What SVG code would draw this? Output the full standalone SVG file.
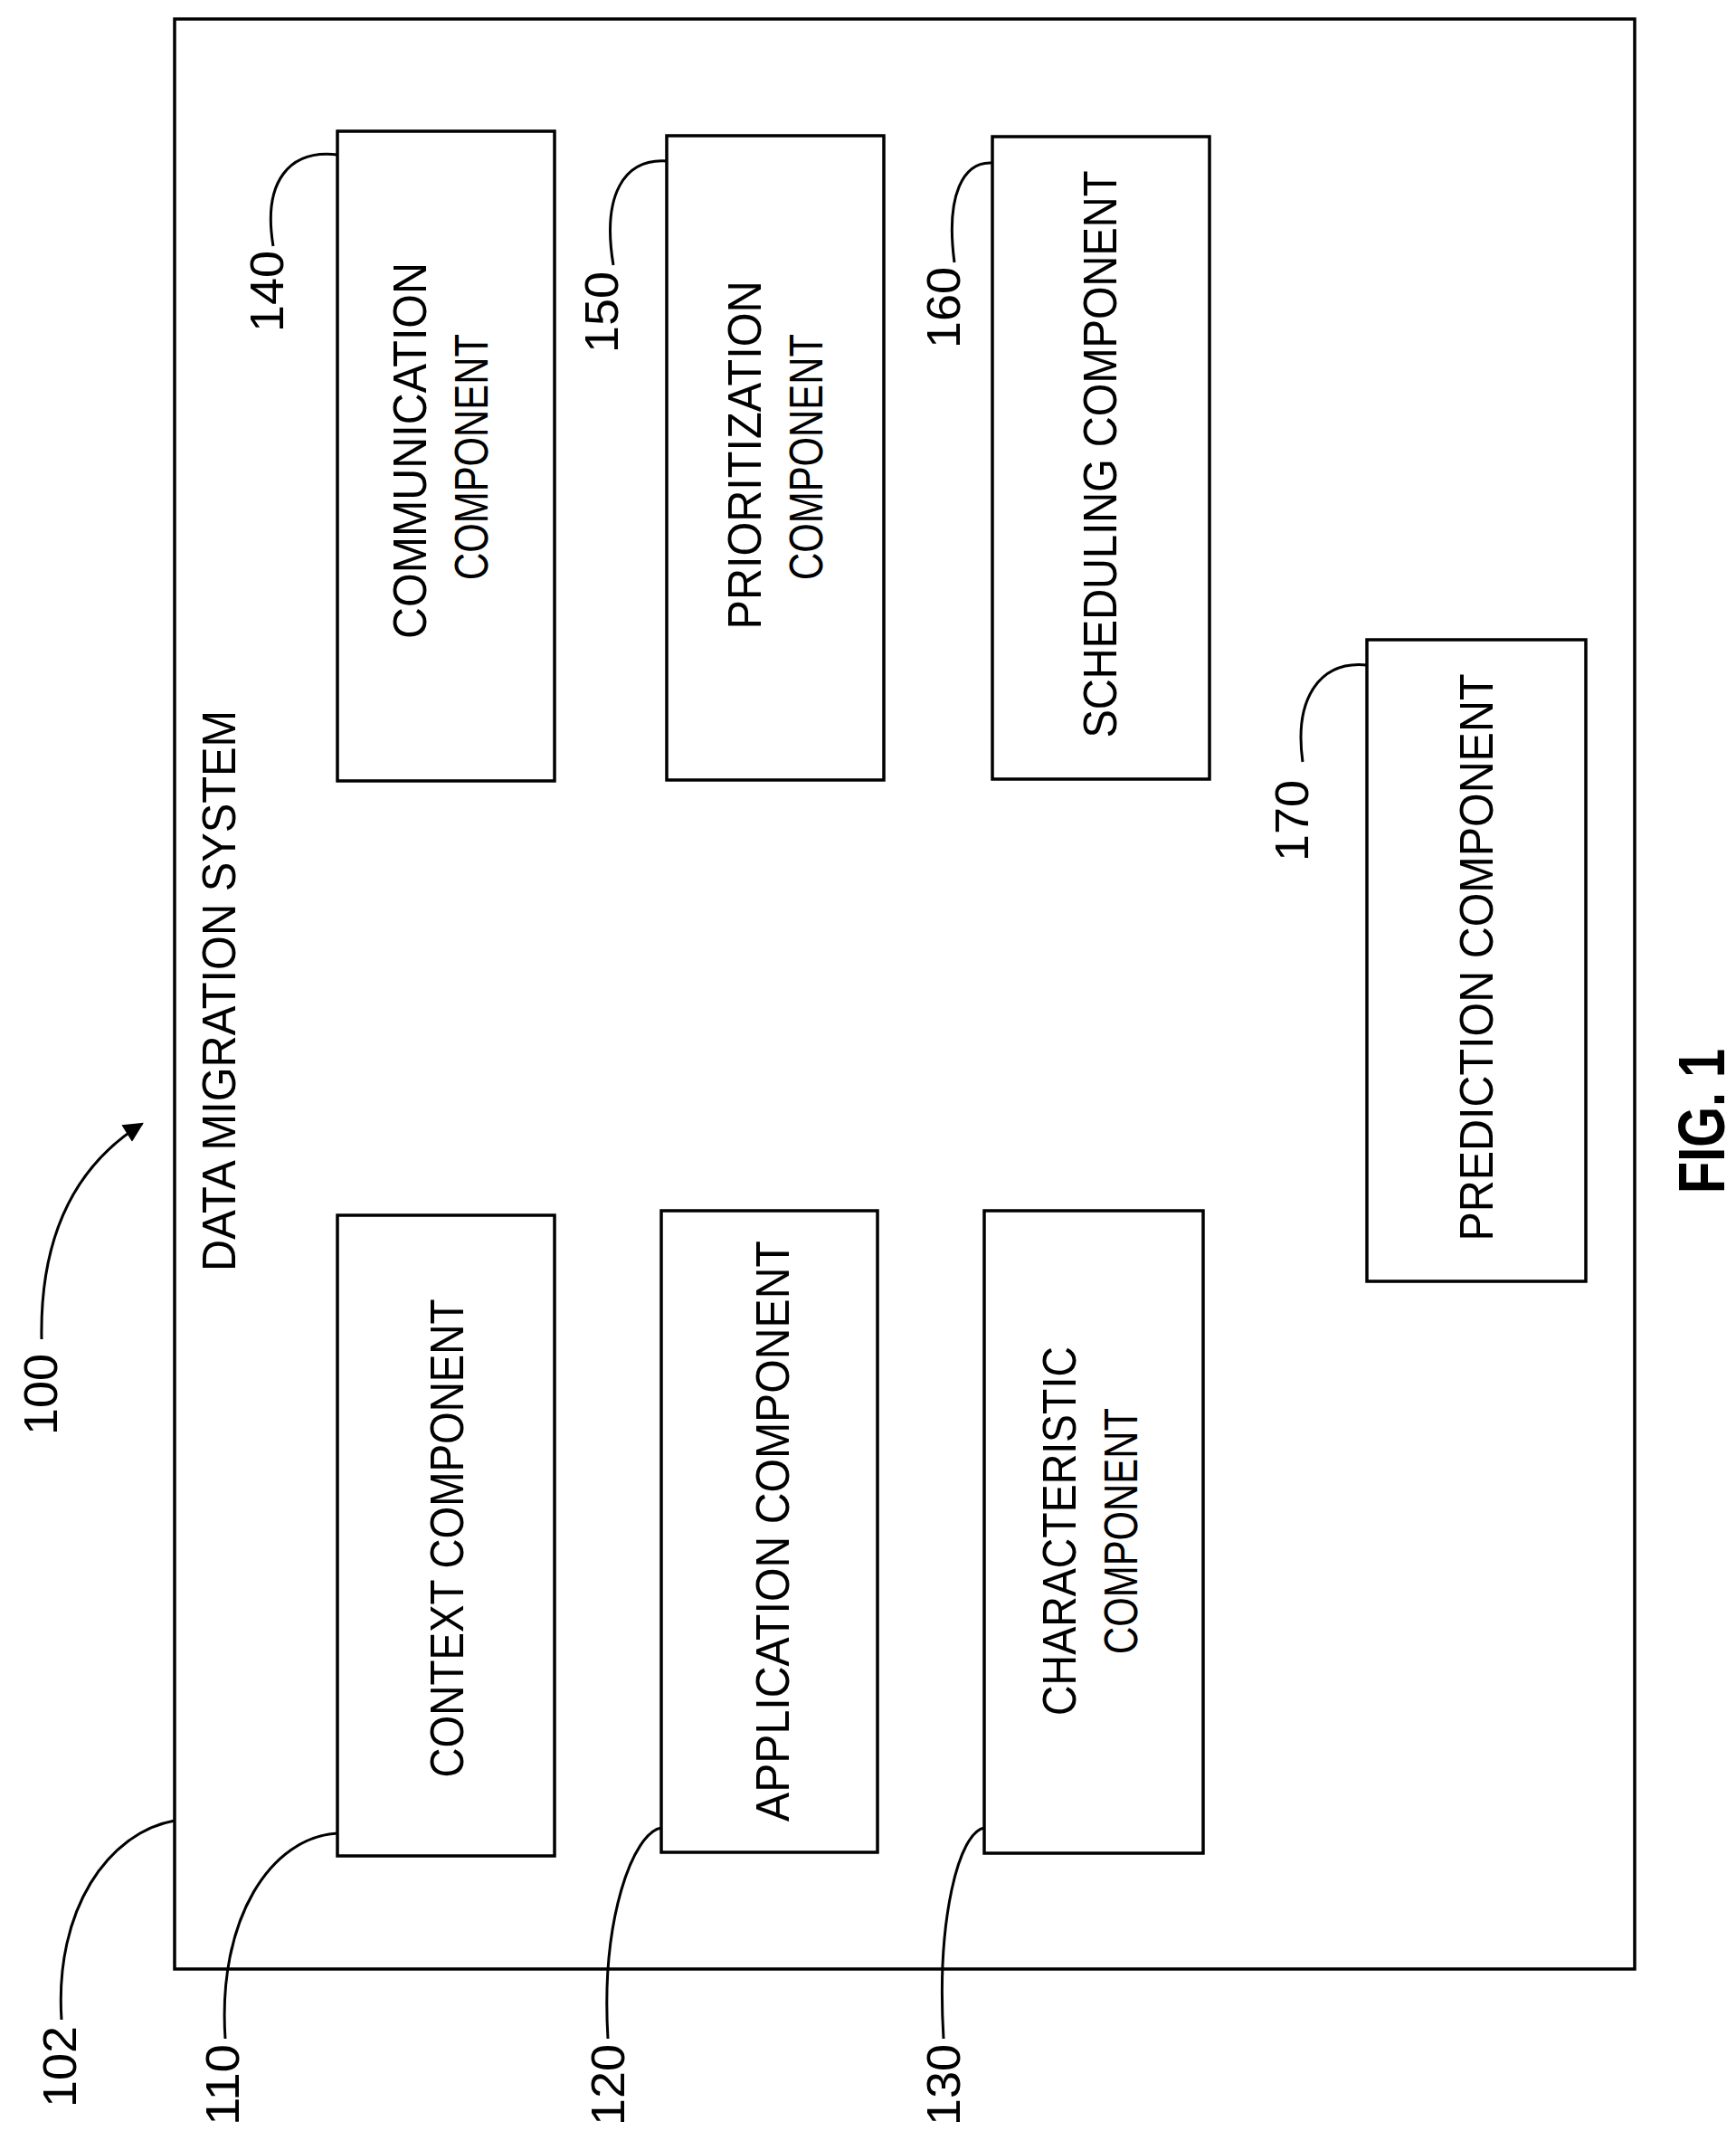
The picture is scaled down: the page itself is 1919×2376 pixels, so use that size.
<svg xmlns="http://www.w3.org/2000/svg" width="1919" height="2376" viewBox="0 0 1919 2376">
<defs>
<style>
.b{fill:#fff;stroke:#000;stroke-width:3.5}
.l{fill:none;stroke:#000;stroke-width:3}
.t{font-family:"Liberation Sans",Arial,sans-serif;font-size:52px;text-anchor:middle;dominant-baseline:central;fill:#000}
</style>
<marker id="a" viewBox="0 0 10 10" refX="9" refY="5" markerWidth="28" markerHeight="22" orient="auto" markerUnits="userSpaceOnUse"><path d="M0,0 L10,5 L0,10 z" fill="#000"/></marker>
</defs>
<rect width="1919" height="2376" fill="#fff"/>
<g id="system"><rect class="b" x="193" y="21" width="1614" height="2155"/>
<text class="t" transform="translate(242,1095) rotate(-90)" textLength="620" lengthAdjust="spacingAndGlyphs">DATA MIGRATION SYSTEM</text></g>
<g id="n110"><rect class="b" x="373" y="1343" width="240" height="708"/>
<text class="t" transform="translate(494,1700) rotate(-90)" textLength="529" lengthAdjust="spacingAndGlyphs">CONTEXT COMPONENT</text></g>
<g id="n120"><rect class="b" x="731" y="1338" width="239" height="709"/>
<text class="t" transform="translate(854,1692) rotate(-90)" textLength="642" lengthAdjust="spacingAndGlyphs">APPLICATION COMPONENT</text></g>
<g id="n130"><rect class="b" x="1088" y="1338" width="242" height="710"/>
<text class="t" transform="translate(1171,1692) rotate(-90)" textLength="408" lengthAdjust="spacingAndGlyphs">CHARACTERISTIC</text>
<text class="t" transform="translate(1239,1692) rotate(-90)" textLength="272" lengthAdjust="spacingAndGlyphs">COMPONENT</text></g>
<g id="n140"><rect class="b" x="373" y="145" width="240" height="718"/>
<text class="t" transform="translate(453,498) rotate(-90)" textLength="416" lengthAdjust="spacingAndGlyphs">COMMUNICATION</text>
<text class="t" transform="translate(521,505) rotate(-90)" textLength="272" lengthAdjust="spacingAndGlyphs">COMPONENT</text></g>
<g id="n150"><rect class="b" x="737" y="150" width="240" height="712"/>
<text class="t" transform="translate(823,503) rotate(-90)" textLength="385" lengthAdjust="spacingAndGlyphs">PRIORITIZATION</text>
<text class="t" transform="translate(891,505) rotate(-90)" textLength="272" lengthAdjust="spacingAndGlyphs">COMPONENT</text></g>
<g id="n160"><rect class="b" x="1097" y="151" width="240" height="710"/>
<text class="t" transform="translate(1216,502) rotate(-90)" textLength="627" lengthAdjust="spacingAndGlyphs">SCHEDULING COMPONENT</text></g>
<g id="n170"><rect class="b" x="1511" y="707" width="242" height="709"/>
<text class="t" transform="translate(1632,1058) rotate(-90)" textLength="627" lengthAdjust="spacingAndGlyphs">PREDICTION COMPONENT</text></g>
<g id="labels">
<text class="t" transform="translate(45,1541) rotate(-90)" textLength="90" lengthAdjust="spacingAndGlyphs">100</text>
<text class="t" transform="translate(66,2284) rotate(-90)" textLength="90" lengthAdjust="spacingAndGlyphs">102</text>
<text class="t" transform="translate(246,2304) rotate(-90)" textLength="90" lengthAdjust="spacingAndGlyphs">110</text>
<text class="t" transform="translate(672,2304) rotate(-90)" textLength="90" lengthAdjust="spacingAndGlyphs">120</text>
<text class="t" transform="translate(1043,2304) rotate(-90)" textLength="90" lengthAdjust="spacingAndGlyphs">130</text>
<text class="t" transform="translate(295,322) rotate(-90)" textLength="90" lengthAdjust="spacingAndGlyphs">140</text>
<text class="t" transform="translate(665,345) rotate(-90)" textLength="90" lengthAdjust="spacingAndGlyphs">150</text>
<text class="t" transform="translate(1043,340) rotate(-90)" textLength="90" lengthAdjust="spacingAndGlyphs">160</text>
<text class="t" transform="translate(1428,907) rotate(-90)" textLength="90" lengthAdjust="spacingAndGlyphs">170</text>
<text class="t" transform="translate(1881,1239) rotate(-90)" style="font-weight:bold;font-size:72px" textLength="160" lengthAdjust="spacingAndGlyphs">FIG. 1</text>
</g>
<g id="connectors">
<path class="l" d="M46,1480 C44,1370 80,1290 157,1242" marker-end="url(#a)"/>
<path class="l" d="M68,2232 C60,2110 120,2025 193,2012"/>
<path class="l" d="M249,2253 C240,2120 300,2030 373,2026"/>
<path class="l" d="M672,2253 C664,2120 700,2025 731,2020"/>
<path class="l" d="M1043,2253 C1035,2120 1060,2025 1088,2020"/>
<path class="l" d="M302,272 C290,200 320,165 373,171"/>
<path class="l" d="M678,293 C665,215 690,175 737,178"/>
<path class="l" d="M1055,290 C1045,215 1065,178 1097,180"/>
<path class="l" d="M1440,842 C1430,770 1460,730 1511,735"/>
</g>
</svg>
